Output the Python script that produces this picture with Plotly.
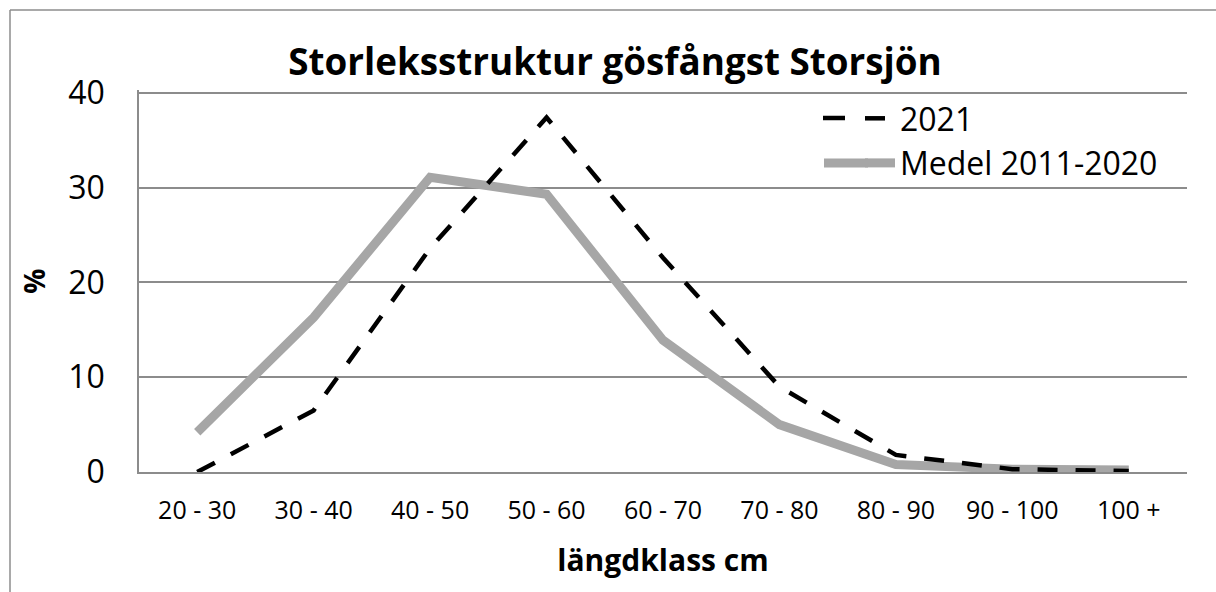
import plotly.graph_objects as go

categories = ["20 - 30", "30 - 40", "40 - 50", "50 - 60", "60 - 70",
              "70 - 80", "80 - 90", "90 - 100", "100 +"]
values_2021 = [0.0, 6.5, 23.6, 37.4, 22.6, 9.0, 1.8, 0.3, 0.1]
values_medel = [4.2, 16.3, 31.1, 29.3, 13.9, 5.0, 0.8, 0.3, 0.2]
y_ticks = [0, 10, 20, 30, 40]

FONT = "Open Sans"
GRID = "#8c8c8c"
GRAY_LINE = "#a6a6a6"

fig = go.Figure()
fig.add_trace(go.Scatter(
    x=categories, y=values_medel, mode="lines", name="Medel 2011-2020",
    line=dict(color=GRAY_LINE, width=9), legendrank=2,
))
fig.add_trace(go.Scatter(
    x=categories, y=values_2021, mode="lines", name="2021",
    line=dict(color="black", width=4.5, dash="20px,18px"), legendrank=1,
))

L, R, T, B = 139, 29, 90, 120
W, H = 1216, 592
pw = W - L - R
ph = H - T - B

def px_x(p):
    return (p - L) / pw

def px_y(p):
    return (H - B - p) / ph

fig.update_layout(
    width=W, height=H,
    margin=dict(l=L, r=R, t=T, b=B),
    paper_bgcolor="white", plot_bgcolor="white",
    font=dict(family=FONT, color="black"),
    title=dict(text="<b>Storleksstruktur gösfångst Storsjön</b>",
               font=dict(family=FONT, size=36.8, color="black"),
               xref="container", x=615 / W, xanchor="center",
               y=1 - 62 / H, yanchor="middle"),
    showlegend=True,
    legend=dict(x=px_x(860), y=px_y(91), xanchor="left", yanchor="top",
                font=dict(family=FONT, size=32, color="black"),
                bgcolor="rgba(0,0,0,0)", borderwidth=0),
    xaxis=dict(
        type="category", range=[-0.5, len(categories) - 0.5],
        showgrid=False, showline=True, linecolor=GRID, linewidth=1.5,
        ticks="", tickfont=dict(family=FONT, size=25, color="black"),
        ticklabelstandoff=15,
        title=dict(text="<b>längdklass cm</b>",
                   font=dict(family=FONT, size=30, color="black"), standoff=25),
    ),
    yaxis=dict(
        range=[0, 40.3], tickvals=y_ticks,
        showgrid=True, gridcolor=GRID, gridwidth=1.5,
        showline=True, linecolor=GRID, linewidth=1.5, zeroline=False,
        ticks="", tickfont=dict(family=FONT, size=32, color="black"),
        ticklabelstandoff=26,
        title=dict(text="<b>%</b>",
                   font=dict(family=FONT, size=28, color="black"), standoff=14),
    ),
    shapes=[
        # outer chart border (top and left edges visible)
        dict(type="line", xref="paper", yref="paper",
             x0=px_x(10), x1=px_x(1230), y0=px_y(10), y1=px_y(10),
             line=dict(color=GRID, width=1.5)),
        dict(type="line", xref="paper", yref="paper",
             x0=px_x(10), x1=px_x(10), y0=px_y(10), y1=px_y(600),
             line=dict(color=GRID, width=1.5)),
        # longer legend keys, as in the original
        dict(type="line", xref="paper", yref="paper",
             x0=px_x(823), x1=px_x(845), y0=px_y(118), y1=px_y(118),
             line=dict(color="black", width=4.5)),
        dict(type="line", xref="paper", yref="paper",
             x0=px_x(824), x1=px_x(868), y0=px_y(163), y1=px_y(163),
             line=dict(color=GRAY_LINE, width=9)),
    ],
)

fig.write_html(
    "out.html",
    config={"displayModeBar": False},
    post_script="document.body.style.margin='0';document.body.style.padding='0';",
)
